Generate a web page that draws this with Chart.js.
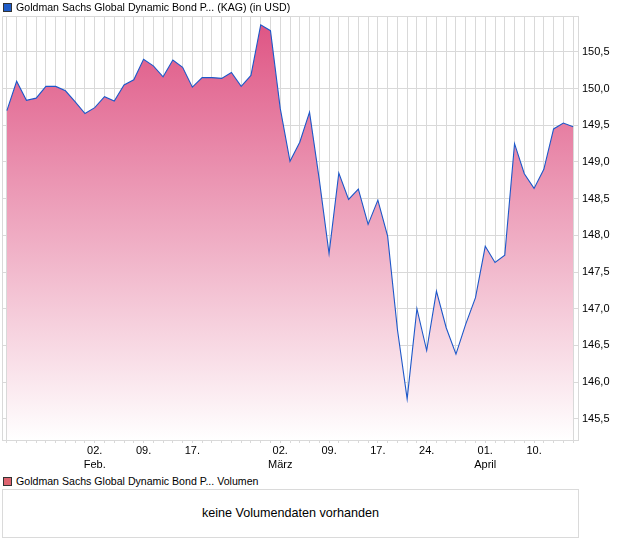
<!DOCTYPE html>
<html>
<head>
<meta charset="utf-8">
<script src="https://cdn.jsdelivr.net/npm/chart.js@4/dist/chart.umd.min.js"></script>
<style>
  body { margin: 0; background: #fff; font-family: 'Liberation Sans', Arial, sans-serif; color: #000; }
  #page { position: relative; width: 620px; height: 546px; overflow: hidden; }
  #wrap { position: absolute; left: 0; top: 0; width: 620px; height: 470px; }
  .legend { position: absolute; left: 16px; font-size: 10.6px; line-height: 14px; white-space: nowrap; }
  .sq { position: absolute; left: 3px; width: 7px; height: 7px; border: 1px solid #333; }
  #volbox { position: absolute; left: 2px; top: 489px; width: 575px; height: 47px; border: 1px solid #dadada;
            text-align: center; line-height: 47px; font-size: 12.6px; }
</style>
</head>
<body>
<div id="page">
  <div id="wrap"><canvas id="priceChart"></canvas></div>
  <div class="sq" style="top:3px; background:#1f5cc8;"></div>
  <div class="legend" style="top:0px;">Goldman Sachs Global Dynamic Bond P... (KAG) (in USD)</div>
  <div class="sq" style="top:477px; background:#de6470;"></div>
  <div class="legend" style="top:474px;">Goldman Sachs Global Dynamic Bond P... Volumen</div>
  <div id="volbox">keine Volumendaten vorhanden</div>
</div>
<script>
// Handelstage (Index = Punkt auf der x-Achse)
const dates = [
  '20.01.', '21.01.', '22.01.', '23.01.', '26.01.', '27.01.', '28.01.', '29.01.', '30.01.',
  '02.02.', '03.02.', '04.02.', '05.02.', '06.02.', '09.02.', '10.02.', '11.02.', '12.02.', '13.02.',
  '17.02.', '18.02.', '19.02.', '20.02.', '23.02.', '24.02.', '25.02.', '26.02.', '27.02.',
  '02.03.', '03.03.', '04.03.', '05.03.', '06.03.', '09.03.', '10.03.', '11.03.', '12.03.', '13.03.',
  '17.03.', '18.03.', '19.03.', '20.03.', '23.03.', '24.03.', '25.03.', '26.03.', '27.03.', '30.03.', '31.03.',
  '01.04.', '02.04.', '07.04.', '08.04.', '10.04.', '13.04.', '14.04.', '15.04.', '16.04.', '17.04.'
];

// Kurs in USD
const prices = [
  149.70, 150.10, 149.84, 149.87, 150.03, 150.03, 149.97, 149.82, 149.66,
  149.74, 149.89, 149.83, 150.05, 150.12, 150.40, 150.31, 150.16, 150.39, 150.29,
  150.02, 150.15, 150.15, 150.14, 150.22, 150.03, 150.18, 150.87, 150.79,
  149.73, 149.01, 149.27, 149.68, 148.76, 147.75, 148.85, 148.49, 148.63, 148.15,
  148.48, 147.99, 146.72, 145.77, 147.00, 146.43, 147.24, 146.74, 146.38, 146.79, 147.15,
  147.85, 147.63, 147.73, 149.25, 148.84, 148.64, 148.90, 149.45, 149.53, 149.48
];

// Beschriftung der x-Achse
const tickIndex = [9, 14, 19, 28, 33, 38, 43, 49, 54];
const tickText = [['02.', 'Feb.'], ['09.'], ['17.'], ['02.', 'März'], ['09.'], ['17.'], ['24.'], ['01.', 'April'], ['10.']];

const yMin = 145.21;
const yMax = 150.99;

const gridColor = '#d9d9d9';

// Rahmen oben und links
const frame = {
  id: 'frame',
  beforeDatasetsDraw(chart) {
    const a = chart.chartArea;
    const c = chart.ctx;
    c.save();
    c.strokeStyle = gridColor;
    c.lineWidth = 1;
    c.beginPath();
    c.moveTo(a.left + 0.5, a.bottom);
    c.lineTo(a.left + 0.5, a.top + 0.5);
    c.lineTo(a.right, a.top + 0.5);
    c.stroke();
    c.restore();
  }
};

const ctx = document.getElementById('priceChart').getContext('2d');

new Chart(ctx, {
  type: 'line',
  data: {
    labels: dates,
    datasets: [{
      data: prices,
      borderColor: '#1d58c9',
      borderWidth: 1.1,
      pointRadius: 0,
      tension: 0,
      fill: 'start',
      backgroundColor: function(context) {
        const area = context.chart.chartArea;
        if (!area) return 'rgba(222,80,128,1)';
        const g = context.chart.ctx.createLinearGradient(0, area.top, 0, area.bottom);
        g.addColorStop(0, 'rgb(222, 82, 130)');
        g.addColorStop(1, 'rgb(255, 255, 255)');
        return g;
      }
    }]
  },
  options: {
    responsive: true,
    maintainAspectRatio: false,
    animation: false,
    layout: { padding: { left: 2, top: 16, right: 0, bottom: 0 } },
    plugins: {
      legend: { display: false },
      tooltip: { enabled: false }
    },
    scales: {
      x: {
        offset: true,
        grid: { color: gridColor, offset: false, tickLength: 3, drawTicks: true },
        border: { color: gridColor },
        ticks: {
          autoSkip: false,
          maxRotation: 0,
          padding: 1,
          color: '#000',
          font: { family: "'Liberation Sans', Arial, sans-serif", size: 11, lineHeight: 1.25 },
          callback: function(value, index) {
            const k = tickIndex.indexOf(index);
            return k >= 0 ? tickText[k] : '';
          }
        },
        afterFit(scale) { scale.height = 30; }
      },
      y: {
        position: 'right',
        min: yMin,
        max: yMax,
        grid: { color: gridColor, drawTicks: false },
        border: { color: gridColor },
        ticks: {
          stepSize: 0.5,
          includeBounds: false,
          padding: 4,
          color: '#000',
          font: { family: "'Liberation Sans', Arial, sans-serif", size: 11 },
          callback: v => v.toFixed(1).replace('.', ',')
        },
        afterFit(scale) { scale.width = 42; }
      }
    }
  },
  plugins: [frame]
});
</script>
</body>
</html>
